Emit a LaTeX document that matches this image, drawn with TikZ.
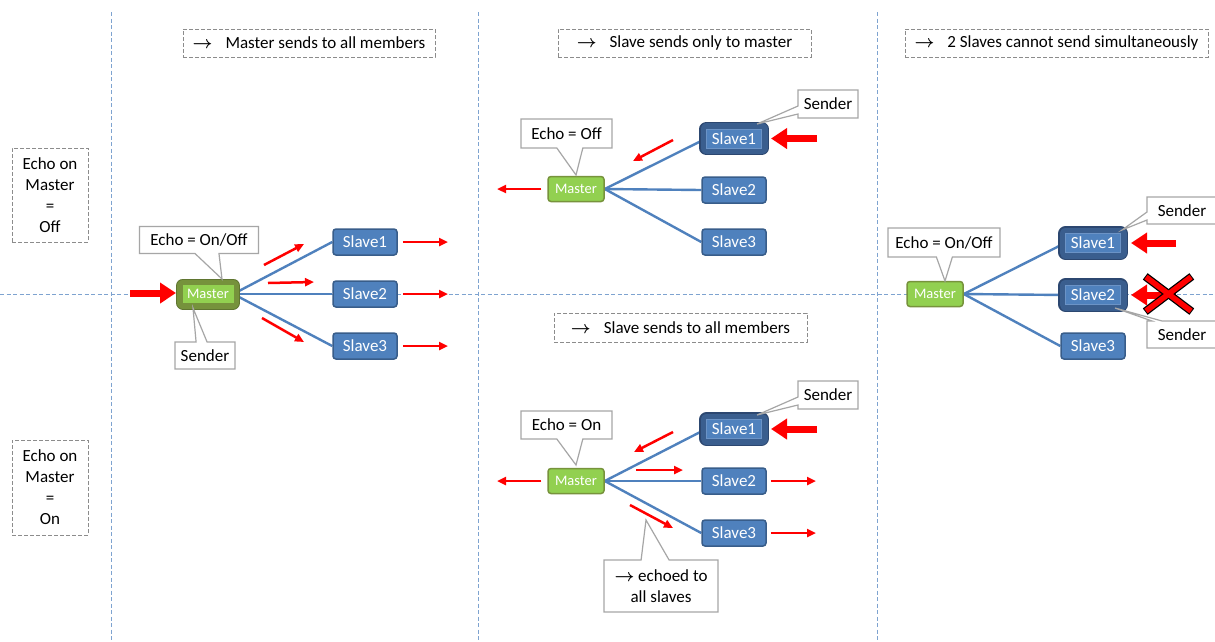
\documentclass[tikz,border=0pt]{standalone}
\usepackage{fontspec}
\setmainfont{Carlito}
\usetikzlibrary{arrows.meta,shapes.callouts,backgrounds}

\definecolor{slavefill}{HTML}{4F81BD}
\definecolor{slaveedge}{HTML}{385D8A}
\definecolor{senderband}{HTML}{3A5E8E}
\definecolor{senderedge}{HTML}{2C4770}
\definecolor{innerline}{HTML}{6B93C6}
\definecolor{mastergreen}{HTML}{92D050}
\definecolor{masteredge}{HTML}{77933C}
\definecolor{masterband}{HTML}{76923C}
\definecolor{masterouter}{HTML}{5F7530}
\definecolor{linkblue}{HTML}{4F81BD}
\definecolor{sepblue}{HTML}{7EA3D0}
\definecolor{boxgray}{HTML}{8C8C8C}
\definecolor{callgray}{HTML}{A6A6A6}
\definecolor{signalred}{HTML}{FF0000}

\newcommand{\rarr}{{\boldmath$\rightarrow$}}

\begin{document}
\begin{tikzpicture}[x=1pt,y=-1pt,
  font=\fontsize{17}{21}\selectfont,
  slave/.style={rectangle, rounded corners=3pt, fill=slavefill, draw=slaveedge,
    line width=1.5pt, text=white, minimum width=64pt, minimum height=26pt, inner sep=0pt},
  sendslave/.style={rectangle, fill=slavefill, draw=innerline, line width=0.8pt,
    text=white, minimum width=55pt, minimum height=19pt, inner sep=0pt,
    preaction={draw=senderedge, line width=14.5pt, line join=round},
    preaction={draw=senderband, line width=12pt, line join=round}},
  master/.style={rectangle, rounded corners=3pt, fill=mastergreen, draw=masteredge,
    line width=1.5pt, text=white, minimum width=56pt, minimum height=25pt, inner sep=0pt,
    font=\fontsize{14.5}{17}\selectfont},
  sendmaster/.style={rectangle, fill=mastergreen, draw=mastergreen, line width=0.5pt,
    text=white, minimum width=50pt, minimum height=17pt, inner sep=0pt,
    font=\fontsize{14.5}{17}\selectfont,
    preaction={draw=masterouter, line width=14pt, line join=round},
    preaction={draw=masterband, line width=12pt, line join=round}},
  link/.style={draw=linkblue, line width=2.4pt},
  redarrow/.style={draw=signalred, line width=2.5pt, -{Triangle[length=9pt,width=8pt]}},
  bigarrow/.style={draw=signalred, line width=7pt, -{Triangle[length=16pt,width=20pt]}},
  callout/.style={rectangle callout, draw=callgray, fill=white, line width=1.2pt,
    inner sep=0pt, align=center},
  dashbox/.style={draw=boxgray, dash pattern=on 4pt off 2pt, line width=1pt,
    inner sep=0pt, align=center},
  separator/.style={draw=sepblue, dash pattern=on 4pt off 2.5pt, line width=1pt}
]
\useasboundingbox (0,0) rectangle (1215,641);

% grid of the four cases
\coordinate (v1t) at (111,12);  \coordinate (v1b) at (111,641);
\coordinate (v2t) at (478,12);  \coordinate (v2b) at (478,641);
\coordinate (v3t) at (877,12);  \coordinate (v3b) at (877,641);
\coordinate (hl) at (0,294);    \coordinate (hr) at (1215,294);
\coordinate (pagetl) at (0,0);  \coordinate (pagebr) at (1215,641);

% headings
\node[dashbox, minimum width=252pt, minimum height=28pt] (t1) at (309,43)
  {\rarr\hspace{13pt}Master sends to all members};
\node[dashbox, minimum width=253pt, minimum height=28pt] (t2) at (684.5,43)
  {\rarr\hspace{13pt}Slave sends only to master};
\node[dashbox, minimum width=303pt, minimum height=28pt] (t3) at (1056.5,43)
  {\rarr\hspace{13pt}2 Slaves cannot send simultaneously};
\node[dashbox, minimum width=253pt, minimum height=29pt] (t4) at (680.5,327.5)
  {\rarr\hspace{13pt}Slave sends to all members};

\node[dashbox, minimum width=76pt, minimum height=94pt] (rowoff) at (50,195)
  {Echo on\\Master\\=\\Off};
\node[dashbox, minimum width=76pt, minimum height=95pt] (rowon) at (50,487.5)
  {Echo on\\Master\\=\\On};

% ---- master sends to all members
\node[sendmaster] (m1) at (208,294) {Master};
\node[slave] (a1) at (365,242) {Slave1};
\node[slave] (a2) at (365,294) {Slave2};
\node[slave] (a3) at (365,346) {Slave3};
\coordinate (in1) at (130,293);
\coordinate (in1tip) at (176,293);
\draw[bigarrow] (in1) -- (in1tip);
\coordinate (e1s) at (264,265); \coordinate (e1e) at (304,244);
\coordinate (e2s) at (268,283); \coordinate (e2e) at (314,282);
\coordinate (e3s) at (262,318); \coordinate (e3e) at (304,342);
\draw[redarrow] (e1s) -- (e1e);
\draw[redarrow] (e2s) -- (e2e);
\draw[redarrow] (e3s) -- (e3e);
\coordinate (o1) at (448,242); \coordinate (o2) at (448,294); \coordinate (o3) at (448,346);
\draw[redarrow] (a1.east) ++(5,0) -- (o1);
\draw[redarrow] (a2.east) ++(5,0) -- (o2);
\draw[redarrow] (a3.east) ++(5,0) -- (o3);
\node[callout, minimum width=119pt, minimum height=27pt, callout pointer width=24pt,
  callout absolute pointer={(222,279)}] (echo1) at (199,240) {Echo = On/Off};
\node[callout, minimum width=60pt, minimum height=27pt, callout pointer width=11pt,
  callout absolute pointer={(193,308)}] (snd1) at (205,355.5) {Sender};

% ---- slave sends only to master
\node[master] (m2) at (576,189) {Master};
\node[sendslave] (b1) at (734,138.5) {Slave1};
\node[slave] (b2) at (734,190) {Slave2};
\node[slave] (b3) at (734,242) {Slave3};
\coordinate (bin) at (817,138.5); \coordinate (bintip) at (771,138.5);
\draw[bigarrow] (bin) -- (bintip);
\coordinate (f1s) at (673,140); \coordinate (f1e) at (633,161);
\draw[redarrow] (f1s) -- (f1e);
\coordinate (out2) at (497,189);
\draw[redarrow] (m2.west) ++(-6,0) -- (out2);
\node[callout, minimum width=91pt, minimum height=29pt, callout pointer width=26pt,
  callout absolute pointer={(576,175)}] (echo2) at (566.5,133.5) {Echo = Off};
\node[callout, minimum width=60pt, minimum height=28pt, callout pointer width=8pt,
  callout absolute pointer={(757,124)}] (snd2) at (828,104) {Sender};

% ---- slave sends to all members
\node[master] (m3) at (576,481) {Master};
\node[sendslave] (c1) at (734,429) {Slave1};
\node[slave] (c2) at (734,481) {Slave2};
\node[slave] (c3) at (734,533) {Slave3};
\coordinate (cin) at (817,429); \coordinate (cintip) at (771,429);
\draw[bigarrow] (cin) -- (cintip);
\coordinate (g1s) at (673,432); \coordinate (g1e) at (634,452);
\coordinate (g2s) at (636,470); \coordinate (g2e) at (683,470);
\coordinate (g3s) at (630,505); \coordinate (g3e) at (673,528);
\draw[redarrow] (g1s) -- (g1e);
\draw[redarrow] (g2s) -- (g2e);
\draw[redarrow] (g3s) -- (g3e);
\coordinate (out3) at (497,481);
\draw[redarrow] (m3.west) ++(-6,0) -- (out3);
\coordinate (q2) at (816,481); \coordinate (q3) at (816,533);
\draw[redarrow] (c2.east) ++(4,0) -- (q2);
\draw[redarrow] (c3.east) ++(4,0) -- (q3);
\node[callout, minimum width=91pt, minimum height=28pt, callout pointer width=26pt,
  callout absolute pointer={(576,465)}] (echo3) at (566.5,425) {Echo = On};
\node[callout, minimum width=60pt, minimum height=28pt, callout pointer width=8pt,
  callout absolute pointer={(757,415)}] (snd3) at (828,395) {Sender};
\node[callout, minimum width=114pt, minimum height=52pt, callout pointer width=28pt,
  callout absolute pointer={(646,520)}] (echoed) at (661,586)
  {\rarr\ echoed to\\all slaves};

% ---- two slaves at once
\node[master] (m4) at (935,294) {Master};
\node[sendslave] (d1) at (1093,243) {Slave1};
\node[sendslave] (d2) at (1093,295) {Slave2};
\node[slave] (d3) at (1093,346) {Slave3};
\coordinate (din1) at (1176,243); \coordinate (din1tip) at (1131,243);
\coordinate (din2) at (1176,295); \coordinate (din2tip) at (1131,295);
\draw[bigarrow] (din1) -- (din1tip);
\draw[bigarrow] (din2) -- (din2tip);
% blocked transmission
\coordinate (x1) at (1146,277); \coordinate (x2) at (1191,311);
\coordinate (x3) at (1146,311); \coordinate (x4) at (1191,277);
\draw[black, line width=8pt, shorten <=-1pt, shorten >=-1pt] (x1) -- (x2);
\draw[black, line width=8pt, shorten <=-1pt, shorten >=-1pt] (x3) -- (x4);
\draw[signalred, line width=5.5pt] (x1) -- (x2) (x3) -- (x4);
\node[callout, minimum width=112pt, minimum height=29pt, callout pointer width=16pt,
  callout absolute pointer={(945,281)}] (echo4) at (944,242.5) {Echo = On/Off};
\node[callout, minimum width=70pt, minimum height=27pt, callout pointer width=8pt,
  callout absolute pointer={(1122,230)}] (snd4) at (1182,210.5) {Sender};
\node[callout, minimum width=70pt, minimum height=27pt, callout pointer width=10pt,
  callout absolute pointer={(1115,308)}] (snd5) at (1182,334.5) {Sender};

% background: page, separators, then the bus links behind the nodes
\begin{scope}[on background layer]
  \fill[white] (pagetl) rectangle (pagebr);
  \draw[separator] (v1t) -- (v1b);
  \draw[separator] (v2t) -- (v2b);
  \draw[separator] (v3t) -- (v3b);
  \draw[separator] (hl) -- (hr);
  \foreach \m/\s in {m1/a1,m1/a2,m1/a3,m2/b1,m2/b2,m2/b3,m3/c1,m3/c2,m3/c3,m4/d1,m4/d2,m4/d3}
    \draw[link] (\m.east) -- (\s.west);
\end{scope}
\end{tikzpicture}
\end{document}
